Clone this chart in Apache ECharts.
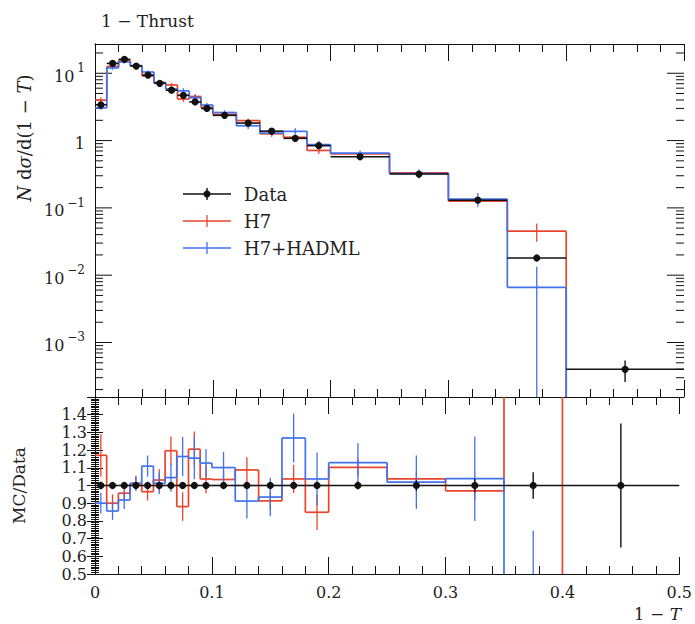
<!DOCTYPE html>
<html><head><meta charset="utf-8">
<script src="https://cdn.jsdelivr.net/npm/echarts@6/dist/echarts.min.js"></script>
<style>html,body{margin:0;padding:0;background:#fff}#c{width:695px;height:624px}</style>
</head><body><div id="c"></div>
<script>
// ---------- data ----------
const binEdges = [0,0.01,0.02,0.03,0.04,0.05,0.06,0.07,0.08,0.09,0.10,0.12,0.14,0.16,0.18,0.20,0.25,0.30,0.35,0.40,0.50];
const dataVals = [3.4,14.0,16.1,12.8,9.4,7.1,5.6,4.7,3.75,3.0,2.37,1.82,1.38,1.08,0.84,0.575,0.318,0.13,0.018,0.0004];
const dataErrs = [0.07,0.14,0.16,0.13,0.09,0.07,0.06,0.05,0.04,0.03,0.024,0.018,0.014,0.016,0.017,0.012,0.0095,0.005,0.00135,0.00014];
const h7Vals = [3.98,12.6,15.4,12.95,9.07,7.32,6.70,4.14,4.52,3.11,2.45,1.98,1.26,1.12,0.713,0.634,0.330,0.126,0.045,0];
const h7Errs = [0.41,0.70,0.64,0.51,0.47,0.43,0.45,0.38,0.375,0.24,0.12,0.13,0.069,0.086,0.084,0.029,0.013,0.0065,0.0135,0];
const hadmlVals = [3.06,11.98,14.78,12.95,10.43,7.19,5.85,5.47,4.33,3.38,2.61,1.66,1.29,1.37,0.871,0.649,0.324,0.135,0.0066,0];
const hadmlErrs = [0.20,0.70,0.81,0.51,0.56,0.43,0.45,0.52,0.45,0.24,0.21,0.18,0.15,0.15,0.126,0.063,0.048,0.031,0.0068,0];
const xTickLabels = ['0','0.1','0.2','0.3','0.4','0.5'];
const logDecades = [-4,-3,-2,-1,0,1];
const ratioTickLabels = ['0.5','0.6','0.7','0.8','0.9','1','1.1','1.2','1.3','1.4'];
const seriesNames = ['Data','H7','H7+HADML'];

// ---------- style ----------
const FONT = 'DejaVu Serif';
const RED = '#e8452c';
const BLUE = '#4171ec';
const BLACK = '#111';
const LOG_MIN = 1.55e-4, LOG_MAX = 27.2;

const chart = echarts.init(document.getElementById('c'), null, {renderer:'svg'});

function binItems(vals){ return vals.map((v,i)=>[binEdges[i], binEdges[i+1], v]); }

function histRender(vals, errs, color, isLog){
  return function(params, api){
    const i = params.dataIndex;
    const cs = params.coordSys;
    const top = cs.y, bot = cs.y + cs.height;
    const clamp = y => Math.min(bot, Math.max(top, y));
    const yRaw = v => (isLog && v <= 0) ? bot + 1000 : api.coord([0, v])[1];
    const x0 = api.coord([binEdges[i], 1])[0];
    const x1 = api.coord([binEdges[i+1], 1])[0];
    const xc = api.coord([(binEdges[i]+binEdges[i+1])/2, 1])[0];
    const v = vals[i];
    const yv = yRaw(v);
    const st = {stroke: color, lineWidth: 1.7};
    const ch = [];
    if (yv >= top && yv <= bot) ch.push({type:'line', shape:{x1:x0,y1:yv,x2:x1,y2:yv}, style:st});
    if (i > 0) {
      const yp = clamp(yRaw(vals[i-1]));
      ch.push({type:'line', shape:{x1:x0,y1:yp,x2:x0,y2:clamp(yv)}, style:st});
    }
    if (errs[i] > 0) {
      const ya = clamp(yRaw(v + errs[i]));
      const yb = clamp(yRaw(v - errs[i]));
      if (ya !== yb) ch.push({type:'line', shape:{x1:xc,y1:ya,x2:xc,y2:yb}, style:{stroke:color, lineWidth:1.3}});
    }
    return {type:'group', children: ch};
  };
}

function dataRender(vals, errs, isLog){
  return function(params, api){
    const i = params.dataIndex;
    const cs = params.coordSys;
    const top = cs.y, bot = cs.y + cs.height;
    const clamp = y => Math.min(bot, Math.max(top, y));
    const yRaw = v => (isLog && v <= 0) ? bot + 1000 : api.coord([0, v])[1];
    const x0 = api.coord([binEdges[i], 1])[0];
    const x1 = api.coord([binEdges[i+1], 1])[0];
    const xc = api.coord([(binEdges[i]+binEdges[i+1])/2, 1])[0];
    const yv = yRaw(vals[i]);
    const ch = [
      {type:'line', shape:{x1:x0,y1:yv,x2:x1,y2:yv}, style:{stroke:BLACK, lineWidth:1.6}},
      {type:'line', shape:{x1:xc,y1:clamp(yRaw(vals[i]+errs[i])),x2:xc,y2:clamp(yRaw(vals[i]-errs[i]))}, style:{stroke:BLACK, lineWidth:1.4}},
      {type:'circle', shape:{cx:xc, cy:yv, r:3.6}, style:{fill:BLACK}}
    ];
    return {type:'group', children: ch};
  };
}

// log-axis tick marks (major decades + minor 2..9)
const logTickVals = [];
logDecades.forEach(e => { for (let m=1;m<=9;m++){ const v = m*Math.pow(10,e); if (v>=LOG_MIN && v<=LOG_MAX) logTickVals.push([0, v, m===1?1:0]); } });
function logTickRender(params, api){
  const cs = params.coordSys;
  const v = api.value(1), major = api.value(2) === 1;
  const y = api.coord([0, v])[1];
  const L = major ? 17 : 8;
  const l = cs.x, r = cs.x + cs.width;
  return {type:'group', children:[
    {type:'line', shape:{x1:l,y1:y,x2:l+L,y2:y}, style:{stroke:BLACK, lineWidth:1}},
    {type:'line', shape:{x1:r,y1:y,x2:r-L,y2:y}, style:{stroke:BLACK, lineWidth:1}}
  ]};
}

const ratio = (vals) => vals.map((v,i)=> v / dataVals[i]);
const ratioErr = (errs) => errs.map((e,i)=> e / dataVals[i]);
const ones = dataVals.map(()=>1);

const axLine = {show:true, lineStyle:{color:BLACK, width:1}};
function xAx(grid, pos, labels){
  return {type:'value', gridIndex:grid, position:pos, min:0, max:0.5, interval:0.1,
    axisLine:axLine, splitLine:{show:false},
    axisTick:{show:true, inside:true, length:17, lineStyle:{color:BLACK}},
    minorTick:{show:true, splitNumber:5, length:8, lineStyle:{color:BLACK}},
    axisLabel:{show:labels, margin:10, fontFamily:FONT, fontSize:16, color:'#222',
      formatter: v => xTickLabels[Math.round(v*10)] ?? ''}};
}
function ratioAx(pos, labels){
  return {type:'value', gridIndex:1, position:pos, min:0.5, max:1.5, interval:0.1,
    axisLine:axLine, splitLine:{show:false},
    axisTick:{show:true, inside:true, length:8, lineStyle:{color:BLACK}},
    minorTick:{show:true, splitNumber:10, length:4, lineStyle:{color:BLACK}},
    axisLabel:{show:labels, margin:8, fontFamily:FONT, fontSize:16, color:'#222',
      formatter: v => { const k = Math.round((v-0.5)*10); return (Math.abs(v-(0.5+k/10))<1e-6 && ratioTickLabels[k]) ? ratioTickLabels[k] : ''; }},
    name: labels ? 'MC/Data' : '', nameLocation:'middle', nameRotate:90, nameGap:68,
    nameTextStyle:{fontFamily:FONT, fontSize:17, color:'#222'}};
}

const option = {
  backgroundColor:'#fff',
  animation:false,
  title:{text:'1 − Thrust', left:96, top:7, textStyle:{fontFamily:FONT, fontSize:17, fontWeight:'normal', color:'#222'}},
  grid:[
    {left:95, top:44, width:589, height:353},
    {left:95, top:397, width:589, height:177}
  ],
  xAxis:[ xAx(0,'bottom',false), xAx(0,'top',false), xAx(1,'bottom',true), xAx(1,'top',false) ],
  yAxis:[
    {type:'log', logBase:10, gridIndex:0, position:'left', min:LOG_MIN, max:LOG_MAX,
      axisLine:axLine, splitLine:{show:false}, axisTick:{show:false}, minorTick:{show:false},
      axisLabel:{show:true, margin:10, color:'#222', showMinLabel:false, showMaxLabel:false,
        formatter: v => { const lg = Math.log10(v); const e = Math.round(lg);
          if (Math.abs(lg-e) > 1e-6 || logDecades.indexOf(e) < 0) return '';
          if (e === 0) return '{b|1}';
          return '{b|10}{s|' + (e<0 ? '−'+(-e) : ''+e) + '}'; },
        rich:{ b:{fontFamily:FONT, fontSize:16, color:'#222', lineHeight:22, verticalAlign:'bottom'},
               s:{fontFamily:FONT, fontSize:12, color:'#222', lineHeight:22, verticalAlign:'top', padding:[0,0,0,3]} }}},
    {type:'log', logBase:10, gridIndex:0, position:'right', min:LOG_MIN, max:LOG_MAX,
      axisLine:axLine, splitLine:{show:false}, axisTick:{show:false}, axisLabel:{show:false}},
    ratioAx('left', true),
    ratioAx('right', false)
  ],
  series:[
    {type:'custom', name:'logticks', xAxisIndex:0, yAxisIndex:0, data:logTickVals, renderItem:logTickRender, silent:true, encode:{x:0,y:1}},
    {type:'custom', name:seriesNames[1], xAxisIndex:0, yAxisIndex:0, data:binItems(h7Vals), encode:{x:[0,1],y:2}, renderItem:histRender(h7Vals,h7Errs,RED,true)},
    {type:'custom', name:seriesNames[2], xAxisIndex:0, yAxisIndex:0, data:binItems(hadmlVals), encode:{x:[0,1],y:2}, renderItem:histRender(hadmlVals,hadmlErrs,BLUE,true)},
    {type:'custom', name:seriesNames[0], xAxisIndex:0, yAxisIndex:0, data:binItems(dataVals), encode:{x:[0,1],y:2}, renderItem:dataRender(dataVals,dataErrs,true)},
    {type:'custom', name:'r_h7', xAxisIndex:2, yAxisIndex:2, data:binItems(ratio(h7Vals)), encode:{x:[0,1],y:2}, renderItem:histRender(ratio(h7Vals),ratioErr(h7Errs),RED,false)},
    {type:'custom', name:'r_hadml', xAxisIndex:2, yAxisIndex:2, data:binItems(ratio(hadmlVals)), encode:{x:[0,1],y:2}, renderItem:histRender(ratio(hadmlVals),ratioErr(hadmlErrs),BLUE,false)},
    {type:'custom', name:'r_data', xAxisIndex:2, yAxisIndex:2, data:binItems(ones), encode:{x:[0,1],y:2}, renderItem:dataRender(ones,ratioErr(dataErrs),false)}
  ],
  graphic:[
    // legend
    {type:'line', shape:{x1:183,y1:194,x2:231,y2:194}, style:{stroke:BLACK, lineWidth:1.6}},
    {type:'line', shape:{x1:207,y1:188,x2:207,y2:200}, style:{stroke:BLACK, lineWidth:1.4}},
    {type:'circle', shape:{cx:207,cy:194,r:3.6}, style:{fill:BLACK}},
    {type:'text', left:244, top:185, style:{text:seriesNames[0], font:'18px "DejaVu Serif"', fill:'#222'}},
    {type:'line', shape:{x1:183,y1:221,x2:231,y2:221}, style:{stroke:RED, lineWidth:1.6}},
    {type:'line', shape:{x1:207,y1:215,x2:207,y2:227}, style:{stroke:RED, lineWidth:1.3}},
    {type:'text', left:244, top:212, style:{text:seriesNames[1], font:'18px "DejaVu Serif"', fill:'#222'}},
    {type:'line', shape:{x1:183,y1:248,x2:231,y2:248}, style:{stroke:BLUE, lineWidth:1.6}},
    {type:'line', shape:{x1:207,y1:242,x2:207,y2:254}, style:{stroke:BLUE, lineWidth:1.3}},
    {type:'text', left:244, top:239, style:{text:seriesNames[2], font:'18px "DejaVu Serif"', fill:'#222'}},
    // y-axis title (top-aligned, rotated)
    {type:'text', x:24, y:138, rotation:Math.PI/2,
      style:{text:'{i|N} d{i|σ}/d(1 − {i|T})', font:'18px "DejaVu Serif"', fill:'#222', align:'center', verticalAlign:'middle',
        rich:{i:{fontFamily:FONT, fontStyle:'italic', fontSize:18, fill:'#222'}}}},
    // x-axis title
    {type:'text', right:14, top:605, style:{text:'1 − {i|T}', font:'17px "DejaVu Serif"', fill:'#222',
      rich:{i:{fontFamily:FONT, fontStyle:'italic', fontSize:17, fill:'#222'}}}}
  ]
};
chart.setOption(option);
</script>
</body></html>
